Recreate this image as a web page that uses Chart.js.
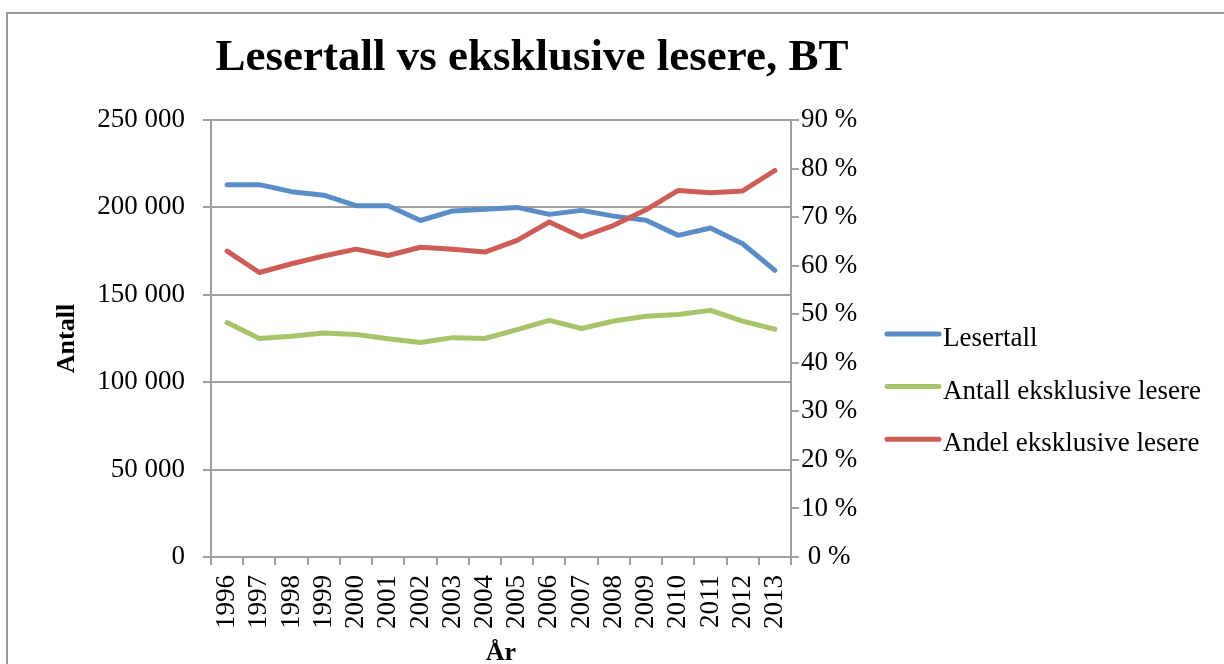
<!DOCTYPE html>
<html><head><meta charset="utf-8">
<script src="https://cdn.jsdelivr.net/npm/chart.js@4.4.0/dist/chart.umd.min.js"></script>
<style>
html,body{margin:0;padding:0;background:#fff;overflow:hidden;width:1224px;height:664px;}
#wrap{position:relative;width:1224px;height:664px;overflow:hidden;}
#frame{position:absolute;left:6px;top:12px;width:1300px;height:800px;border:2px solid #9a9a9a;box-sizing:border-box;}
canvas{position:absolute;left:0;top:0;}
</style></head><body>
<div id="wrap"><div id="frame"></div><canvas id="c" width="1224" height="664"></canvas></div>
<script>
const titleText = 'Lesertall vs eksklusive lesere, BT';
const xAxisTitle = 'År';
const yAxisTitle = 'Antall';
const years = ['1996','1997','1998','1999','2000','2001','2002','2003','2004','2005','2006','2007','2008','2009','2010','2011','2012','2013'];
const lesertall = [213000,213000,209000,207000,201000,201000,192500,198000,199000,200000,196000,198300,195000,192600,184000,188200,179200,164000];
const antallEksklusive = [134100,125000,126300,128200,127300,124800,122700,125500,125000,130100,135400,130700,135000,137700,138700,141100,134900,130300];
const andelEksklusive = [63.0,58.6,60.4,62.0,63.4,62.1,63.8,63.4,62.8,65.2,69.0,65.9,68.3,71.5,75.5,75.0,75.4,79.6];
const seriesNames = ['Lesertall','Antall eksklusive lesere','Andel eksklusive lesere'];
const seriesColors = ['#5A8DC8','#A8C46A','#CD5D56'];
const leftTickValues = [0,50000,100000,150000,200000,250000];
const rightTickValues = [0,10,20,30,40,50,60,70,80,90];

const FONT = '"Liberation Serif", "Times New Roman", serif';
const GRID = '#a0a0a0';

function fmtThousands(v){ return String(v).replace(/\B(?=(\d{3})+(?!\d))/g,' '); }

const decor = {
  id:'decor',
  afterDraw(chart){
    const ctx = chart.ctx;
    ctx.save();
    ctx.fillStyle = '#000';
    ctx.font = 'bold 45px ' + FONT;
    ctx.textAlign = 'center';
    ctx.textBaseline = 'alphabetic';
    ctx.fillText(titleText, 532, 70);
    ctx.font = '27px ' + FONT;
    ctx.textAlign = 'left';
    chart.data.datasets.forEach((ds,i)=>{
      const y = 334 + i*52.6;
      ctx.strokeStyle = ds.borderColor;
      ctx.lineWidth = 5;
      ctx.lineCap = 'round';
      ctx.beginPath(); ctx.moveTo(887,y); ctx.lineTo(939,y); ctx.stroke();
      ctx.fillText(ds.label, 943, y+12);
    });
    ctx.restore();
  }
};

const lineStyle = {borderWidth:5, pointRadius:0, pointHoverRadius:0, tension:0, borderCapStyle:'round', borderJoinStyle:'round', fill:false};

new Chart(document.getElementById('c'), {
  type:'line',
  data:{
    labels: years,
    datasets:[
      Object.assign({label:seriesNames[0], data:lesertall, borderColor:seriesColors[0], backgroundColor:seriesColors[0], yAxisID:'y', order:2}, lineStyle),
      Object.assign({label:seriesNames[1], data:antallEksklusive, borderColor:seriesColors[1], backgroundColor:seriesColors[1], yAxisID:'y', order:1}, lineStyle),
      Object.assign({label:seriesNames[2], data:andelEksklusive, borderColor:seriesColors[2], backgroundColor:seriesColors[2], yAxisID:'y1', order:0}, lineStyle)
    ]
  },
  options:{
    responsive:false,
    animation:false,
    layout:{padding:{top:120,left:0,right:0,bottom:0}},
    plugins:{legend:{display:false}, title:{display:false}, tooltip:{enabled:false}},
    scales:{
      x:{
        type:'category',
        offset:true,
        grid:{display:true, drawOnChartArea:false, drawTicks:true, tickLength:8, offset:true, color:GRID, lineWidth:2},
        border:{display:true, color:GRID, width:2},
        ticks:{autoSkip:false, maxRotation:90, minRotation:90, padding:10, color:'#000', font:{family:FONT, size:27}},
        title:{display:true, text:xAxisTitle, color:'#000', font:{family:FONT, size:26, weight:'bold', lineHeight:0.84}, padding:{top:0,bottom:0}},
        afterFit(s){ s.height = 107; }
      },
      y:{
        position:'left',
        min:0, max:250000,
        afterBuildTicks(s){ s.ticks = leftTickValues.map(v=>({value:v})); },
        grid:{display:true, drawOnChartArea:true, drawTicks:true, tickLength:8, color:GRID, lineWidth:2},
        border:{display:true, color:GRID, width:2},
        ticks:{padding:18, color:'#000', font:{family:FONT, size:27}, callback:(v)=>fmtThousands(v)},
        title:{display:true, text:yAxisTitle, color:'#000', font:{family:FONT, size:26, weight:'bold', lineHeight:1}, padding:{top:54,bottom:0}},
        afterFit(s){ s.width = 211; }
      },
      y1:{
        position:'right',
        min:0, max:90,
        afterBuildTicks(s){ s.ticks = rightTickValues.map(v=>({value:v})); },
        grid:{display:true, drawOnChartArea:false, drawTicks:true, tickLength:8, color:GRID, lineWidth:2},
        border:{display:true, color:GRID, width:2},
        ticks:{padding:2, crossAlign:'center', color:'#000', font:{family:FONT, size:27}, callback:(v)=>v+' %'},
        afterFit(s){ s.width = 1224-791; }
      }
    }
  },
  plugins:[decor]
});
</script>
</body></html>
